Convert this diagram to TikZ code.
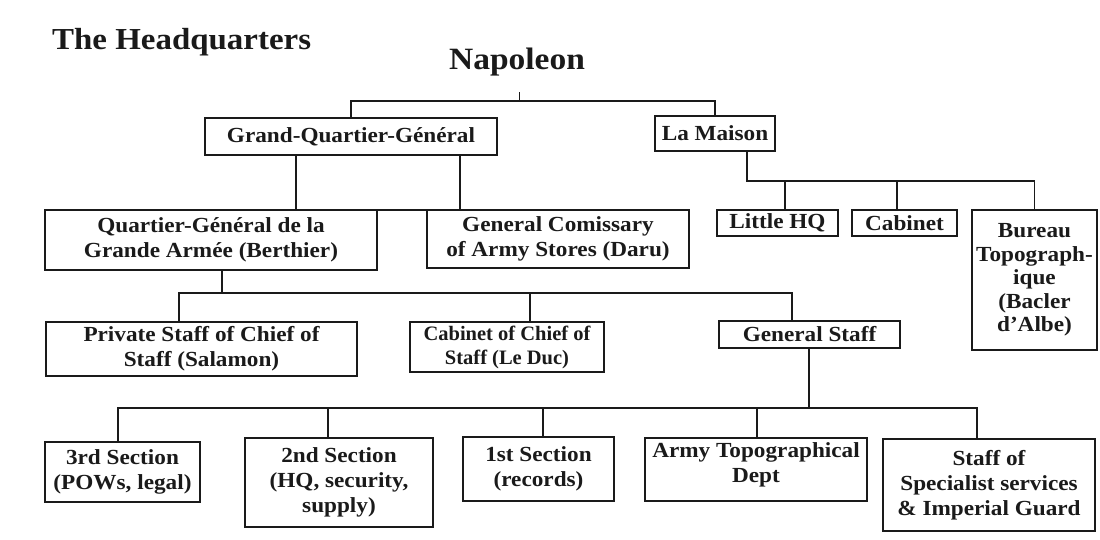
\documentclass[tikz,border=0pt]{standalone}
\usepackage{fontspec}
\setmainfont[FakeStretch=1.08]{Liberation Serif}
\newfontfamily\plainserif{Liberation Serif}
\definecolor{ink}{HTML}{1A1A1A}
\begin{document}
\begin{tikzpicture}[x=1pt,y=-1pt,
  box/.style={draw=ink, line width=2.5pt, inner sep=0pt, align=center, text=ink,
    font=\fontsize{21.5}{25}\selectfont\bfseries},
  sz/.style 2 args={minimum width=#1, minimum height=#2},
  link/.style={draw=ink, line width=1.8pt}]
\useasboundingbox[fill=white] (0,0) rectangle (1100,540);

\node[anchor=base west, text=ink, inner sep=0pt, font=\fontsize{30.5}{36}\selectfont\bfseries] (title) at (52,50) {The Headquarters};
\node[anchor=base, text=ink, inner sep=0pt, font=\fontsize{31}{38}\selectfont\bfseries] (nap) at (517,70) {Napoleon};

% level 1
\node[box, sz={292}{37}] (gqg) at (351,136.5) {Grand-Quartier-Général};
\node[box, sz={120}{35}] (lm) at (715,133.5) {La Maison};

% level 2
\node[box, sz={332}{60}] (qg) at (211,240) {Quartier-Général de la\\Grande Armée (Berthier)};
\node[box, sz={262}{58}] (comm) at (558,239) {General Comissary\\of Army Stores (Daru)};
\node[box, sz={121}{26}] (lhq) at (777.5,223) {Little HQ};
\node[box, sz={105}{26}] (cab) at (904.5,223) {Cabinet};
\node[box, sz={125}{140}, font=\fontsize{21.5}{23.5}\selectfont\bfseries] (bur) at (1034.5,280) {Bureau\\Topograph-\\ique\\(Bacler\\d'Albe)};

% level 3
\node[box, sz={311}{54}] (pri) at (201.5,349) {Private Staff of Chief of\\Staff (Salamon)};
\node[box, sz={194}{50}, font=\plainserif\fontsize{20.5}{24}\selectfont\bfseries] (cc) at (507,347) {Cabinet of Chief of\\Staff (Le Duc)};
\node[box, sz={181}{27}] (gs) at (809.5,334.5) {General Staff};

% level 4
\node[box, sz={155}{60}] (s3) at (122.5,472) {3rd Section\\(POWs, legal)};
\node[box, sz={188}{89}] (s2) at (339,482.5) {2nd Section\\(HQ, security,\\supply)};
\node[box, sz={151}{64}] (s1) at (538.5,469) {1st Section\\(records)};
\node[box, sz={222}{63}] (topo) at (756,469.5) {Army Topographical\\Dept\\[-11pt]};
\node[box, sz={212}{92}] (staff) at (989,485) {Staff of\\Specialist services\\\& Imperial Guard};

% connectors: Napoleon
\coordinate (tb) at (519,101);
\draw[link] (gqg.north) |- (tb) -| (lm.north);
\draw[draw=ink, line width=1pt] (tb) -- ++(0,-9);

% GQG
\coordinate (ga) at (296,210);
\coordinate (gb) at (460,210);
\draw[link] (gqg.south -| ga) -- (ga) -- (gb) -- (gqg.south -| gb);

% La Maison
\coordinate (mx) at (747,181);
\coordinate (lx) at (785,181);
\coordinate (cx) at (897,181);
\draw[link] (lm.south -| mx) -- (mx) -| (bur.north);
\draw[link] (lx) -- (lhq.north -| lx);
\draw[link] (cx) -- (cab.north -| cx);

% QG
\coordinate (qb) at (222,293);
\coordinate (pb) at (179,293);
\coordinate (cb) at (530,293);
\coordinate (sb) at (792,293);
\draw[link] (qg.south -| qb) -- (qb);
\draw[link] (pri.north -| pb) -- (pb) -- (sb) -- (gs.north -| sb);
\draw[link] (cb) -- (cc.north -| cb);

% General Staff
\coordinate (hb) at (809,408);
\coordinate (b3) at (118,408);
\coordinate (b2) at (328,408);
\coordinate (b1) at (543,408);
\coordinate (bt) at (757,408);
\coordinate (bs) at (977,408);
\draw[link] (gs.south -| hb) -- (hb);
\draw[link] (s3.north -| b3) -- (b3) -- (bs) -- (staff.north -| bs);
\draw[link] (b2) -- (s2.north -| b2);
\draw[link] (b1) -- (s1.north -| b1);
\draw[link] (bt) -- (topo.north -| bt);
\end{tikzpicture}
\end{document}
